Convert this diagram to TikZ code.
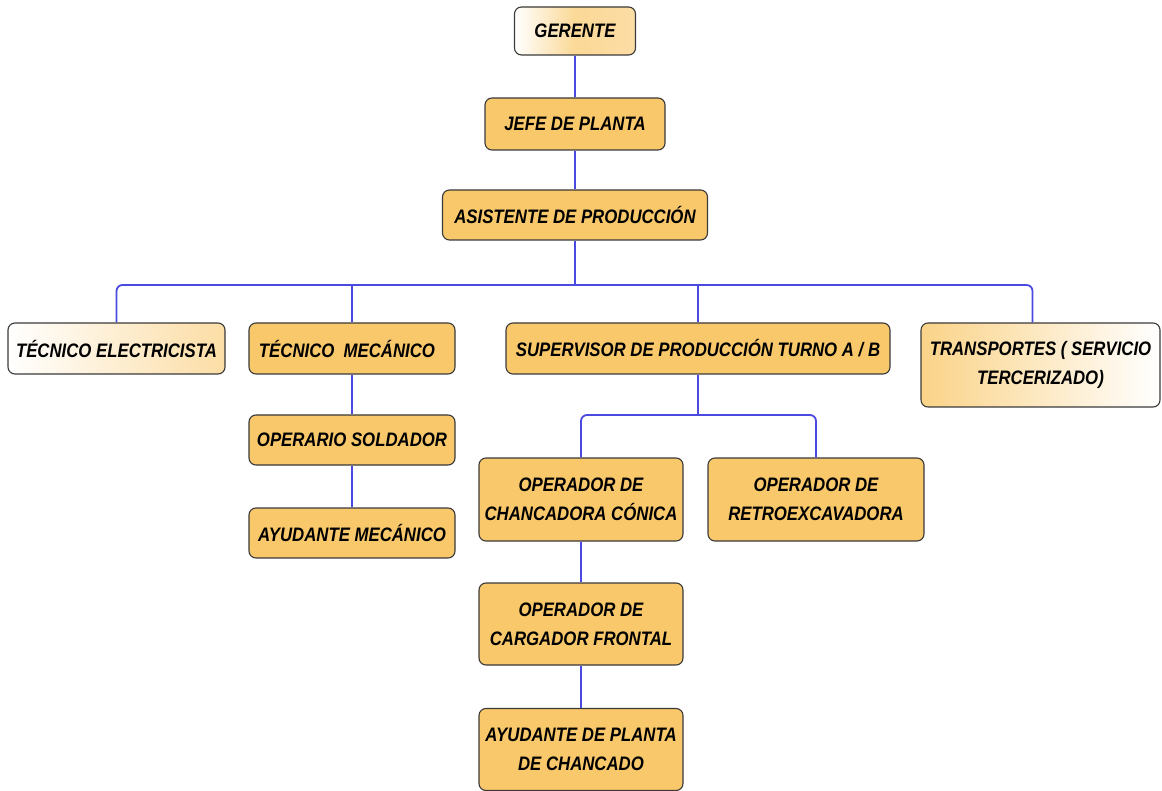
\documentclass[tikz,border=0pt]{standalone}
\usepackage{fontspec}
\setmainfont{Liberation Sans}[FakeStretch=0.86]
\definecolor{boxor}{HTML}{F9C86A}
\definecolor{boxlt}{HTML}{FCDDA5}
\definecolor{linkblue}{HTML}{4A4AE0}
\definecolor{edge}{HTML}{3A3A3A}
\tikzset{
  box/.style={draw=edge, line width=1.1pt, rounded corners=7pt, fill=boxor, inner sep=0pt,
    align=center, font=\fontsize{19.5}{29}\selectfont\bfseries\itshape},
  gradlr/.style={left color=white, right color=boxlt, fill=none},
  gradrl/.style={left color=boxor!80, right color=white, fill=none},
  link/.style={draw=linkblue, line width=1.8pt, rounded corners=6pt}
}
\begin{document}
\begin{tikzpicture}[x=1pt,y=-1pt]
\useasboundingbox (0,0) rectangle (1162,791);
% connectors
\coordinate (bus) at (575,285);
\coordinate (bus2) at (698,415);
% level 0-2
\node[box, left color=white, right color=boxlt, middle color=boxor!70, minimum width=121pt, minimum height=48pt] (ger) at (575,31) {GERENTE};
\node[box, minimum width=180pt, minimum height=52pt] (jefe) at (575,124) {JEFE DE PLANTA};
\node[box, minimum width=265pt, minimum height=50pt] (asis) at (575,215) {ASISTENTE DE PRODUCCIÓN};
% level 3
\node[box, gradlr, minimum width=217pt, minimum height=51pt] (tele) at (116.5,348.5) {TÉCNICO ELECTRICISTA};
\node[box, minimum width=206pt, minimum height=51pt] (tmec) at (352,348.5) {TÉCNICO \ MECÁNICO\hspace{10pt}};
\node[box, minimum width=384pt, minimum height=51pt] (sup) at (698,348.5) {SUPERVISOR DE PRODUCCIÓN TURNO A / B};
\node[box, gradrl, minimum width=239pt, minimum height=84pt] (trans) at (1040.5,365) {TRANSPORTES ( SERVICIO\\TERCERIZADO)};
% mecanico branch
\node[box, minimum width=206pt, minimum height=50pt] (osol) at (352,440) {OPERARIO SOLDADOR};
\node[box, minimum width=206pt, minimum height=50pt] (amec) at (352,533) {AYUDANTE MECÁNICO};
% supervisor branch
\node[box, minimum width=204pt, minimum height=83pt] (ochan) at (581,499.5) {OPERADOR DE\\CHANCADORA CÓNICA};
\node[box, minimum width=216pt, minimum height=83pt] (oretro) at (816,499.5) {OPERADOR DE\\RETROEXCAVADORA};
\node[box, minimum width=204pt, minimum height=82pt] (ocarg) at (581,624) {OPERADOR DE\\CARGADOR FRONTAL};
\node[box, minimum width=204pt, minimum height=82pt] (ayud) at (581,749.5) {AYUDANTE DE PLANTA\\DE CHANCADO};
\draw[link] (ger.south) -- (jefe.north);
\draw[link] (jefe.south) -- (asis.north);
\draw[link] (asis.south) -- (bus);
\draw[link] (tele.north) |- (bus) -| ([xshift=-8pt]trans.north);
\draw[link] (tmec.north) -- (tmec.north |- bus);
\draw[link] (sup.north) -- (sup.north |- bus);
\draw[link] (tmec.south) -- (osol.north);
\draw[link] (osol.south) -- (amec.north);
\draw[link] (sup.south) -- (bus2);
\draw[link] (ochan.north) |- (bus2) -| (oretro.north);
\draw[link] (ochan.south) -- (ocarg.north);
\draw[link] (ocarg.south) -- (ayud.north);
\end{tikzpicture}
\end{document}
